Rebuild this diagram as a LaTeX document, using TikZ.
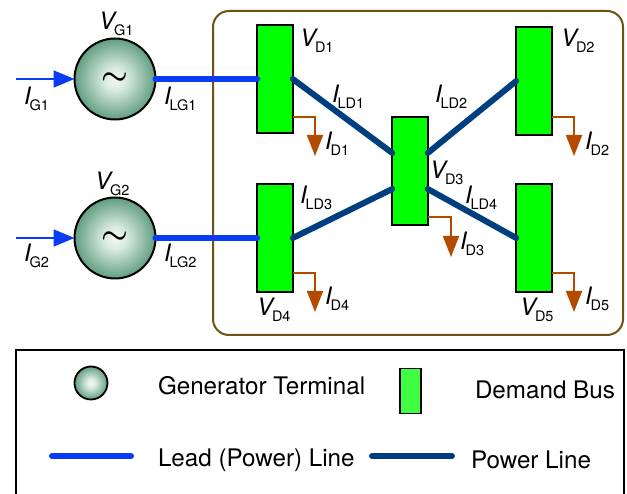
\documentclass[tikz,border=0pt]{standalone}
\usepackage{fontspec}
\usepackage{graphicx}
\setmainfont{TeX Gyre Heros}
\usetikzlibrary{arrows.meta}
\definecolor{frameb}{HTML}{6F5314}
\definecolor{leadb}{HTML}{0A3CF5}
\definecolor{powerb}{HTML}{003F7F}
\definecolor{demandc}{HTML}{B34A00}
\definecolor{busg}{HTML}{00FF00}
\definecolor{busl}{HTML}{40FF40}
\pgfdeclareradialshading{genshade}{\pgfpointorigin}{rgb(0bp)=(0.95,0.97,0.96); rgb(7bp)=(0.85,0.92,0.88); rgb(25bp)=(0.38,0.62,0.50); rgb(50bp)=(0.38,0.62,0.50)}
\newcommand{\lab}[2]{{\fontsize{24}{24}\selectfont\itshape #1}\kern-1pt\raisebox{-6pt}{\fontsize{14.5}{14.5}\selectfont #2}}
\tikzset{
  gen/.style={circle,draw=black,line width=2pt,shading=genshade,minimum size=81pt,inner sep=0pt,outer sep=0pt},
  bus/.style={rectangle,draw=black,line width=2pt,fill=busg,minimum width=35.5pt,minimum height=108pt,inner sep=0pt,outer sep=0pt},
  lead/.style={draw=leadb,line width=6pt,line cap=round},
  powerl/.style={draw=powerb,line width=6pt,line cap=round},
  demand/.style={draw=demandc,line width=1.8pt,-{Triangle[width=16pt,length=21pt,fill=demandc]}},
  inflow/.style={draw=leadb,line width=1.8pt,-{Triangle[width=17pt,length=21pt,fill=leadb]}},
  txt/.style={anchor=base west,inner sep=0pt,outer sep=0pt},
  legtxt/.style={txt,font=\fontsize{24.2}{24.2}\selectfont}
}
\begin{document}
\begin{tikzpicture}[x=1pt,y=-1pt]
\useasboundingbox (0,0) rectangle (627,494);
\draw[frameb,line width=2pt,rounded corners=16pt] (213,11) rectangle (623,335);
% generators
\node[gen] (g1) at (115,79) {\scalebox{3}{\boldmath$\sim$}};
\node[gen] (g2) at (115,238) {\scalebox{3}{\boldmath$\sim$}};
% buses
\node[bus] (d1) at (275,79) {};
\node[bus] (d4) at (275,238) {};
\node[bus] (d3) at (410,171) {};
\node[bus] (d2) at (534,81) {};
\node[bus] (d5) at (534,238) {};
% lines
\draw[lead] (g1.east) -- (d1.west);
\draw[lead] (g2.east) -- (d4.west);
\draw[powerl] (d1.east) -- ([yshift=18pt]d3.west);
\draw[powerl] (d4.east) -- ([yshift=-18pt]d3.west);
\draw[powerl] ([yshift=18pt]d3.east) -- (d2.west);
\draw[powerl] ([yshift=-18pt]d3.east) -- (d5.west);
% inflow
\coordinate (i1) at (16,79);
\coordinate (i2) at (16,238);
\draw[inflow] (i1) -- (g1.west);
\draw[inflow] (i2) -- (g2.west);
% demand arrows
\coordinate (e1) at (315,156);
\coordinate (e2) at (574,156);
\coordinate (e3) at (451,257);
\coordinate (e4) at (315,312);
\coordinate (e5) at (574,312);
\draw[demand] ([yshift=-38pt]d1.east) -| (e1);
\draw[demand] ([yshift=-36pt]d2.east) -| (e2);
\draw[demand] ([yshift=-46pt]d3.east) -| (e3);
\draw[demand] ([yshift=-35pt]d4.east) -| (e4);
\draw[demand] ([yshift=-35pt]d5.east) -| (e5);
% labels
\node[txt] (vg1) at (99,30) {\lab{V}{G1}};
\node[txt] (vg2) at (95,190) {\lab{V}{G2}};
\node[txt] (ig1) at (24,105) {\lab{I}{G1}};
\node[txt] (ig2) at (24,262) {\lab{I}{G2}};
\node[txt] (ilg1) at (164,105) {\lab{I}{LG1}};
\node[txt] (ilg2) at (164,262) {\lab{I}{LG2}};
\node[txt] (vd1) at (300,47) {\lab{V}{D1}};
\node[txt] (vd2) at (561,47) {\lab{V}{D2}};
\node[txt] (vd3) at (430,179) {\lab{V}{D3}};
\node[txt] (vd4) at (257,316) {\lab{V}{D4}};
\node[txt] (vd5) at (520,316) {\lab{V}{D5}};
\node[txt] (id1) at (325,150) {\lab{I}{D1}};
\node[txt] (id2) at (585,150) {\lab{I}{D2}};
\node[txt] (id3) at (460,250) {\lab{I}{D3}};
\node[txt] (id4) at (325,305) {\lab{I}{D4}};
\node[txt] (id5) at (585,305) {\lab{I}{D5}};
\node[txt] (ild1) at (332,103) {\lab{I}{LD1}};
\node[txt] (ild2) at (435,103) {\lab{I}{LD2}};
\node[txt] (ild3) at (300,204) {\lab{I}{LD3}};
\node[txt] (ild4) at (465,204) {\lab{I}{LD4}};
% legend
\draw[black,line width=2pt] (16,494) -- (16,350) -- (624,350) -- (624,494);
\node[circle,draw=black,line width=1.8pt,shading=genshade,minimum width=33pt,inner sep=0pt,outer sep=0pt] (lg) at (91,383) {};
\node[rectangle,draw=black,line width=1.8pt,fill=busl,minimum width=21pt,minimum height=45pt,inner sep=0pt,outer sep=0pt] (lb) at (410.5,391) {};
\coordinate (la) at (52,456);
\coordinate (lc) at (131,456);
\coordinate (pa) at (372,456);
\coordinate (pc) at (452,456);
\draw[lead] (la) -- (lc);
\draw[powerl] (pa) -- (pc);
\node[legtxt] (t1) at (158,395) {Generator Terminal};
\node[legtxt] (t2) at (475,399) {Demand Bus};
\node[legtxt] (t3) at (158,466) {Lead (Power) Line};
\node[legtxt] (t4) at (471,468) {Power Line};
\end{tikzpicture}
\end{document}
